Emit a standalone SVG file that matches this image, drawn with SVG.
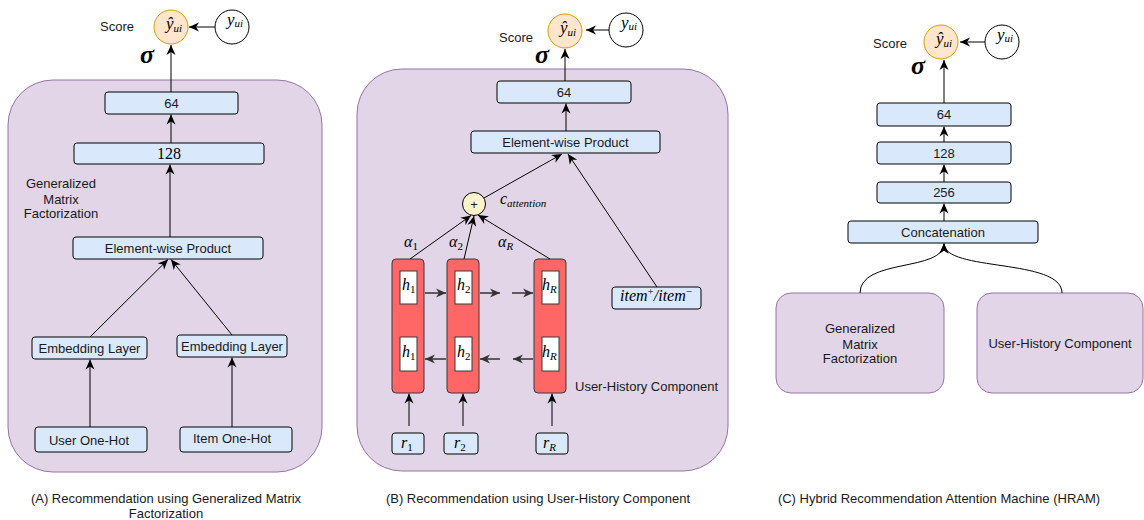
<svg xmlns="http://www.w3.org/2000/svg" width="1144" height="520" viewBox="0 0 1144 520">
<defs>
<marker id="ah" viewBox="0 0 10 10" refX="10" refY="5" markerWidth="10" markerHeight="10" markerUnits="userSpaceOnUse" orient="auto">
<path d="M0,0.5 L10,5 L0,9.5 L3,5 z" fill="#000"/>
</marker>
<marker id="ahg" viewBox="0 0 10 10" refX="10" refY="5" markerWidth="10" markerHeight="10" markerUnits="userSpaceOnUse" orient="auto">
<path d="M0,0.5 L10,5 L0,9.5 L3,5 z" fill="#333"/>
</marker>
</defs>
<style>
.panel{fill:#e1d5e7;stroke:#9673a6;stroke-width:1}
.box{fill:#dae8fc;stroke:#000;stroke-width:1}
.cell{fill:#ff6666;stroke:#36393d;stroke-width:1}
.hb{fill:#fff;stroke:#36393d;stroke-width:1}
.t{font-family:"Liberation Sans",Arial,Helvetica,sans-serif;font-size:13px;fill:#1a1a1a}
.cap{font-family:"Liberation Sans",Arial,Helvetica,sans-serif;font-size:13px;fill:#1a1a1a;text-anchor:middle}
.c{text-anchor:middle}
.m{font-family:"Liberation Serif","Times New Roman",serif;font-style:italic;fill:#000}
.sig{font-family:"Liberation Serif","Times New Roman",serif;font-style:italic;font-weight:bold;font-size:26px;fill:#000}
.edge{stroke:#000;stroke-width:1;fill:none;marker-end:url(#ah)}
.gedge{stroke:#333;stroke-width:1.5;fill:none;marker-end:url(#ahg)}
.yhat{fill:#ffe6cc;stroke:#d79b00;stroke-width:1}
.ycirc{fill:#fff;stroke:#000;stroke-width:1}
</style>

<!-- ===== Panel A ===== -->
<g id="panelA">
<rect class="panel" x="8" y="80" width="314" height="392" rx="45"/>
</g>
<g id="A-yhat" transform="translate(171,27)">
<circle class="yhat" r="17"/>
<text class="m" x="-5" y="1.5" font-size="17">ŷ<tspan font-size="11" dy="3">ui</tspan></text>
</g>
<g id="A-y" transform="translate(232,27)">
<circle class="ycirc" r="17"/>
<text class="m" x="-5" y="-2" font-size="17">y<tspan font-size="11" dy="2">ui</tspan></text>
</g>
<text id="A-score" class="t" x="100" y="31">Score</text>
<text id="A-sigma" class="sig" x="140" y="63">σ</text>
<g id="A-64"><rect class="box" x="105" y="92" width="133" height="22" rx="3"/><text class="t c" x="171.5" y="107.5">64</text></g>
<g id="A-128"><rect class="box" x="74" y="143" width="190" height="21" rx="3"/><text class="c" x="169" y="159" font-family="Liberation Serif, Times New Roman, serif" font-size="16">128</text></g>
<g id="A-gmf-label"><text class="t c" x="61" y="188">Generalized</text><text class="t c" x="61" y="204">Matrix</text><text class="t c" x="61" y="218">Factorization</text></g>
<g id="A-ewp"><rect class="box" x="73" y="237" width="190" height="22" rx="3"/><text class="t c" x="168" y="252.5">Element-wise Product</text></g>
<g id="A-emb1"><rect class="box" x="32" y="337" width="115" height="22" rx="3"/><text class="t c" x="89.5" y="352.5">Embedding Layer</text></g>
<g id="A-emb2"><rect class="box" x="177" y="335" width="110" height="22" rx="3"/><text class="t c" x="232" y="350.5">Embedding Layer</text></g>
<g id="A-user"><rect class="box" x="35" y="427" width="112" height="25" rx="3"/><text class="t c" x="89" y="444.5">User One-Hot</text></g>
<g id="A-item"><rect class="box" x="180" y="427" width="112" height="25" rx="3"/><text class="t c" x="232" y="443">Item One-Hot</text></g>
<text class="cap" x="166" y="503">(A) Recommendation using Generalized Matrix</text>
<text class="cap" x="166" y="518">Factorization</text>

<!-- ===== Panel B ===== -->
<g id="panelB">
<rect class="panel" x="357" y="69" width="371" height="402" rx="45"/>
</g>
<g id="B-yhat" transform="translate(565,31)">
<circle class="yhat" r="17"/>
<text class="m" x="-5" y="1.5" font-size="17">ŷ<tspan font-size="11" dy="3">ui</tspan></text>
</g>
<g id="B-y" transform="translate(626,30)">
<circle class="ycirc" r="17"/>
<text class="m" x="-5" y="-2" font-size="17">y<tspan font-size="11" dy="2">ui</tspan></text>
</g>
<text id="B-score" class="t" x="499" y="42">Score</text>
<text id="B-sigma" class="sig" x="535" y="63">σ</text>
<g id="B-64"><rect class="box" x="497" y="81" width="134" height="22" rx="3"/><text class="t c" x="564" y="96.5">64</text></g>
<g id="B-ewp"><rect class="box" x="471" y="131" width="189" height="22" rx="3"/><text class="t c" x="565.5" y="146.5">Element-wise Product</text></g>
<g id="B-plus"><circle cx="474" cy="204" r="11.5" fill="#fff2cc" stroke="#000"/><text class="t c" x="474" y="208.5" font-size="11">+</text></g>
<text id="B-catt" class="m" x="500" y="204" font-size="16">c<tspan font-size="11" dy="3">attention</tspan></text>
<g id="B-alpha">
<text class="m" x="404" y="247" font-size="16">α<tspan font-size="11" font-style="normal" dy="3">1</tspan></text>
<text class="m" x="449" y="247" font-size="16">α<tspan font-size="11" font-style="normal" dy="3">2</tspan></text>
<text class="m" x="498" y="247" font-size="16">α<tspan font-size="11" dy="3">R</tspan></text>
</g>
<g id="B-cell1">
<rect class="cell" x="392" y="259" width="32" height="134" rx="4"/>
<rect class="hb" x="400" y="271" width="17" height="33"/>
<rect class="hb" x="400" y="337" width="17" height="34"/>
<text class="m" x="402" y="290" font-size="16">h<tspan font-size="11" font-style="normal" dy="3">1</tspan></text>
<text class="m" x="402" y="357" font-size="16">h<tspan font-size="11" font-style="normal" dy="3">1</tspan></text>
</g>
<g id="B-cell2">
<rect class="cell" x="447" y="259" width="32" height="134" rx="4"/>
<rect class="hb" x="455" y="271" width="17" height="33"/>
<rect class="hb" x="455" y="337" width="17" height="34"/>
<text class="m" x="457" y="290" font-size="16">h<tspan font-size="11" font-style="normal" dy="3">2</tspan></text>
<text class="m" x="457" y="357" font-size="16">h<tspan font-size="11" font-style="normal" dy="3">2</tspan></text>
</g>
<g id="B-cellR">
<rect class="cell" x="534" y="259" width="32" height="134" rx="4"/>
<rect class="hb" x="542" y="271" width="17" height="33"/>
<rect class="hb" x="542" y="337" width="17" height="34"/>
<text class="m" x="542" y="290" font-size="16">h<tspan font-size="11" dy="3">R</tspan></text>
<text class="m" x="542" y="357" font-size="16">h<tspan font-size="11" dy="3">R</tspan></text>
</g>
<g id="B-r1"><rect class="box" x="392" y="433" width="32" height="21" rx="3"/><text class="m" x="401" y="448" font-size="16">r<tspan font-size="11" font-style="normal" dy="3">1</tspan></text></g>
<g id="B-r2"><rect class="box" x="444" y="433" width="34" height="21" rx="3"/><text class="m" x="454" y="448" font-size="16">r<tspan font-size="11" font-style="normal" dy="3">2</tspan></text></g>
<g id="B-rR"><rect class="box" x="536" y="433" width="32" height="21" rx="3"/><text class="m" x="543" y="448" font-size="16">r<tspan font-size="11" dy="3">R</tspan></text></g>
<g id="B-item"><rect class="box" x="612" y="287" width="89" height="22" rx="3"/><text class="m c" x="656" y="301" font-size="16">item<tspan font-size="11" font-style="normal" dy="-6">+</tspan><tspan dy="6">/item</tspan><tspan font-size="11" font-style="normal" dy="-6">−</tspan></text></g>
<text id="B-uhc" class="t" x="575" y="391">User-History Component</text>
<text class="cap" x="538" y="503">(B) Recommendation using User-History Component</text>

<!-- ===== Panel C ===== -->
<g id="C-yhat" transform="translate(941,42)">
<circle class="yhat" r="17"/>
<text class="m" x="-5" y="1.5" font-size="17">ŷ<tspan font-size="11" dy="3">ui</tspan></text>
</g>
<g id="C-y" transform="translate(1002,42)">
<circle class="ycirc" r="17"/>
<text class="m" x="-5" y="-2" font-size="17">y<tspan font-size="11" dy="2">ui</tspan></text>
</g>
<text id="C-score" class="t" x="873" y="48">Score</text>
<text id="C-sigma" class="sig" x="911" y="74">σ</text>
<g id="C-64"><rect class="box" x="877" y="103" width="134" height="23" rx="3"/><text class="t c" x="944" y="119">64</text></g>
<g id="C-128"><rect class="box" x="877" y="142" width="134" height="22" rx="3"/><text class="t c" x="944" y="157.5">128</text></g>
<g id="C-256"><rect class="box" x="877" y="182" width="134" height="21" rx="3"/><text class="t c" x="944" y="197">256</text></g>
<g id="C-concat"><rect class="box" x="848" y="221" width="190" height="22" rx="3"/><text class="t c" x="943" y="236.5">Concatenation</text></g>
<g id="C-gmf"><rect class="panel" x="776" y="293" width="168" height="100" rx="15"/><text class="t c" x="860" y="333">Generalized</text><text class="t c" x="860" y="348.5">Matrix</text><text class="t c" x="860" y="363">Factorization</text></g>
<g id="C-uhc"><rect class="panel" x="977" y="293" width="166" height="100" rx="15"/><text class="t c" x="1060" y="348">User-History Component</text></g>
<text class="cap" x="939" y="503">(C) Hybrid Recommendation Attention Machine (HRAM)</text>

<!-- ===== Connectors ===== -->
<g id="connectors">
<line class="edge" x1="215" y1="27" x2="189" y2="27"/>
<line class="edge" x1="171" y1="92" x2="171" y2="45"/>
<line class="edge" x1="171" y1="143" x2="171" y2="114.5"/>
<line class="edge" x1="170" y1="237" x2="170" y2="164.5"/>
<line class="edge" x1="90" y1="337" x2="168" y2="259.5"/>
<line class="edge" x1="232" y1="335" x2="171" y2="259.5"/>
<line class="edge" x1="90" y1="427" x2="90" y2="359.5"/>
<line class="edge" x1="232" y1="427" x2="232" y2="357.5"/>

<line class="edge" x1="609" y1="30" x2="586" y2="30"/>
<line class="edge" x1="565" y1="81" x2="565" y2="49"/>
<line class="edge" x1="566" y1="131" x2="566" y2="103.5"/>
<line class="edge" x1="484" y1="198" x2="562" y2="154"/>
<line class="edge" x1="657" y1="287" x2="568" y2="154"/>
<line class="edge" x1="410" y1="259" x2="471" y2="215.5"/>
<line class="edge" x1="464" y1="259" x2="474" y2="216"/>
<line class="edge" x1="550" y1="259" x2="478" y2="215"/>
<line class="gedge" x1="425" y1="293" x2="446" y2="293"/>
<line class="gedge" x1="480" y1="293" x2="500" y2="293"/>
<line class="gedge" x1="512" y1="293" x2="533" y2="293"/>
<line class="gedge" x1="446" y1="359" x2="425" y2="359"/>
<line class="gedge" x1="500" y1="359" x2="480" y2="359"/>
<line class="gedge" x1="533" y1="359" x2="513" y2="359"/>
<line class="edge" x1="409" y1="426" x2="409" y2="393.5"/>
<line class="edge" x1="463" y1="426" x2="463" y2="393.5"/>
<line class="edge" x1="552" y1="426" x2="552" y2="393.5"/>

<line class="edge" x1="985" y1="42" x2="960" y2="42"/>
<line class="edge" x1="944" y1="103" x2="944" y2="60"/>
<line class="edge" x1="944" y1="142" x2="944" y2="126.5"/>
<line class="edge" x1="944" y1="182" x2="944" y2="164.5"/>
<line class="edge" x1="944" y1="221" x2="944" y2="203.5"/>
<path class="edge" d="M860,293 C860,258 944,272 944,243.5"/>
<path class="edge" d="M1062,293 C1062,258 944,272 944,243.5"/>
</g>
</svg>
